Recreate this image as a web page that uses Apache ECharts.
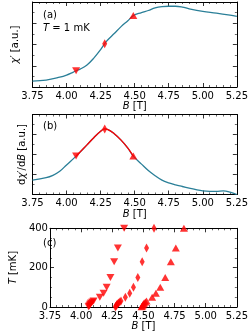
<!DOCTYPE html>
<html><head><meta charset="utf-8">
<script src="https://cdn.jsdelivr.net/npm/echarts@6/dist/echarts.min.js"></script>
<style>html,body{margin:0;padding:0;background:#fff}#c{width:251px;height:334px}</style>
</head><body><div id="c"></div>
<script>
// Panel (a): chi' vs B
const B_a   = [3.75,3.85,3.95,4.0,4.05,4.07,4.1,4.15,4.2,4.25,4.28,4.3,4.35,4.4,4.45,4.49,4.55,4.6,4.65,4.7,4.75,4.8,4.85,4.9,5.0,5.1,5.2,5.25];
const chi_a = [0.07,0.08,0.115,0.14,0.175,0.19,0.21,0.26,0.34,0.44,0.51,0.55,0.63,0.71,0.78,0.84,0.875,0.90,0.93,0.945,0.95,0.95,0.94,0.92,0.89,0.87,0.845,0.83];
// Panel (b): dchi'/dB vs B
const B_b    = [3.75,3.85,3.9,3.95,4.0,4.07,4.15,4.2,4.25,4.28,4.3,4.35,4.4,4.45,4.49,4.55,4.6,4.65,4.7,4.75,4.8,4.85,4.9,4.95,5.0,5.05,5.1,5.15,5.2,5.25];
const dchi_b = [0.18,0.21,0.24,0.29,0.37,0.48,0.62,0.71,0.79,0.82,0.815,0.76,0.68,0.58,0.48,0.38,0.30,0.235,0.18,0.145,0.12,0.10,0.08,0.06,0.045,0.04,0.04,0.045,0.03,0.0];
// markers at T = 1 mK
const markB   = [4.07, 4.28, 4.49];
const markChi = [0.19, 0.51, 0.84];
const markD   = [0.48, 0.82, 0.48];
// Panel (c): T vs B
const T_c      = [1,5,10,15,20,25,30,50,70,100,150,230,300,400];
const B_down   = [4.06,4.065,4.07,4.075,4.08,4.09,4.10,4.15,4.18,4.205,4.235,4.265,4.295,4.345];
const B_diam   = [4.275,4.28,4.285,4.29,4.30,4.31,4.32,4.355,4.39,4.42,4.455,4.49,4.525,4.585];
const B_up     = [4.485,4.49,4.495,4.50,4.505,4.515,4.525,4.57,4.60,4.635,4.675,4.72,4.76,4.825];
const xTicks = ['3.75','4.00','4.25','4.50','4.75','5.00','5.25'];

const FONT = 'DejaVu Sans';
const TEAL = '#2a7f98';
const RED = '#ff0000';
const zip = (a,b) => a.map((v,i)=>[v,b[i]]);

const grids = [
  {left:32.5, width:205.2, top:2, height:85},
  {left:32.5, width:205.2, top:114.5, height:80},
  {left:32.5, width:205.2, top:228.3, height:78.7}
];
const tickCommon = {
  axisLine:{show:true, onZero:false, lineStyle:{color:'#000', width:1}},
  axisTick:{show:true, inside:true, length:4, lineStyle:{color:'#000', width:0.8}},
  minorTick:{show:true, length:2, lineStyle:{color:'#000', width:0.6}},
  splitLine:{show:false}, minorSplitLine:{show:false}
};
const xAxes = [], yAxes = [];
const xNameGaps = [12, 12, 10];
for (let g=0; g<3; g++){
  xAxes.push(Object.assign({}, tickCommon, {
    gridIndex:g, type:'value', position:'bottom', min:3.75, max:5.25, interval:0.25,
    minorTick:Object.assign({}, tickCommon.minorTick, {splitNumber:5}),
    axisLabel:{show:true, margin:4, color:'#000', fontFamily:FONT, fontSize:10, formatter:v=>v.toFixed(2)},
    name:'{i|B} [T]', nameLocation:'middle', nameGap:xNameGaps[g],
    nameTextStyle:{color:'#000', fontFamily:FONT, fontSize:10, rich:{i:{fontStyle:'italic', fontFamily:FONT, fontSize:10, color:'#000'}}}
  }));
  xAxes.push(Object.assign({}, tickCommon, {
    gridIndex:g, type:'value', position:'top', min:3.75, max:5.25, interval:0.25,
    minorTick:Object.assign({}, tickCommon.minorTick, {splitNumber:5}),
    axisLabel:{show:false}
  }));
}
const yDefs = [
  {min:0, max:1, interval:0.25, split:2, label:false, name:'{i|χ}′ [a.u.]', gap:12},
  {min:0, max:1, interval:0.25, split:2, label:false, name:'d{i|χ}′/d{i|B} [a.u.]', gap:5},
  {min:0, max:400, interval:200, split:4, label:true, name:'{i|T} [mK]', gap:19}
];
yDefs.forEach((d,g)=>{
  yAxes.push(Object.assign({}, tickCommon, {
    gridIndex:g, type:'value', position:'left', min:d.min, max:d.max, interval:d.interval,
    minorTick:Object.assign({}, tickCommon.minorTick, {splitNumber:d.split}),
    axisLabel:{show:d.label, margin:2, color:'#000', fontFamily:FONT, fontSize:10},
    name:d.name, nameLocation:'middle', nameGap:d.gap, nameRotate:90,
    nameTextStyle:{color:'#000', fontFamily:FONT, fontSize:10, rich:{i:{fontStyle:'italic', fontFamily:FONT, fontSize:10, color:'#000'}}}
  }));
  yAxes.push(Object.assign({}, tickCommon, {
    gridIndex:g, type:'value', position:'right', min:d.min, max:d.max, interval:d.interval,
    minorTick:Object.assign({}, tickCommon.minorTick, {splitNumber:d.split}),
    axisLabel:{show:false}
  }));
});

const redSeg = zip(B_b, dchi_b).filter(p=>p[0]>=4.07-1e-9 && p[0]<=4.49+1e-9);
const markerSeries = (xi, yi, vals) => [
  {type:'scatter', xAxisIndex:xi, yAxisIndex:yi, data:[[markB[0], vals[0]]], symbol:'triangle', symbolRotate:180, symbolSize:[8,7], itemStyle:{color:RED}, z:5},
  {type:'scatter', xAxisIndex:xi, yAxisIndex:yi, data:[[markB[1], vals[1]]], symbol:'diamond', symbolSize:[5,9], itemStyle:{color:RED}, z:5},
  {type:'scatter', xAxisIndex:xi, yAxisIndex:yi, data:[[markB[2], vals[2]]], symbol:'triangle', symbolSize:[8,7], itemStyle:{color:RED}, z:5}
];

const series = [
  {type:'line', xAxisIndex:0, yAxisIndex:0, data:zip(B_a, chi_a), smooth:0.4, showSymbol:false, lineStyle:{color:TEAL, width:1.3}},
  ...markerSeries(0, 0, markChi),
  {type:'line', xAxisIndex:2, yAxisIndex:2, data:zip(B_b, dchi_b), smooth:0.4, showSymbol:false, lineStyle:{color:TEAL, width:1.3}},
  {type:'line', xAxisIndex:2, yAxisIndex:2, data:redSeg, smooth:0.4, showSymbol:false, lineStyle:{color:RED, width:1.3}, z:3},
  ...markerSeries(2, 2, markD),
  {type:'scatter', xAxisIndex:4, yAxisIndex:4, data:zip(B_down, T_c), symbol:'triangle', symbolRotate:180, symbolSize:[8,7], itemStyle:{color:RED}},
  {type:'scatter', xAxisIndex:4, yAxisIndex:4, data:zip(B_diam, T_c), symbol:'diamond', symbolSize:[5,9], itemStyle:{color:RED}},
  {type:'scatter', xAxisIndex:4, yAxisIndex:4, data:zip(B_up, T_c), symbol:'triangle', symbolSize:[8,7], itemStyle:{color:RED}}
];
series.forEach(s=>{ s.animation=false; if (s.type==='scatter') s.clip=false; });

const txt = (x,y,t) => ({type:'text', left:x, top:y, style:{text:t, fill:'#000', font:'10px "DejaVu Sans"', rich:{i:{fontStyle:'italic', fontFamily:FONT, fontSize:10, fill:'#000'}}}, z:10});
const chart = echarts.init(document.getElementById('c'), null, {renderer:'canvas'});
chart.setOption({
  animation:false,
  grid:grids, xAxis:xAxes, yAxis:yAxes, series:series,
  graphic:[
    txt(43, 10, '(a)'),
    txt(43, 23, '{i|T} = 1 mK'),
    txt(43, 121, '(b)'),
    txt(43, 238, '(c)')
  ]
});
</script>
</body></html>
